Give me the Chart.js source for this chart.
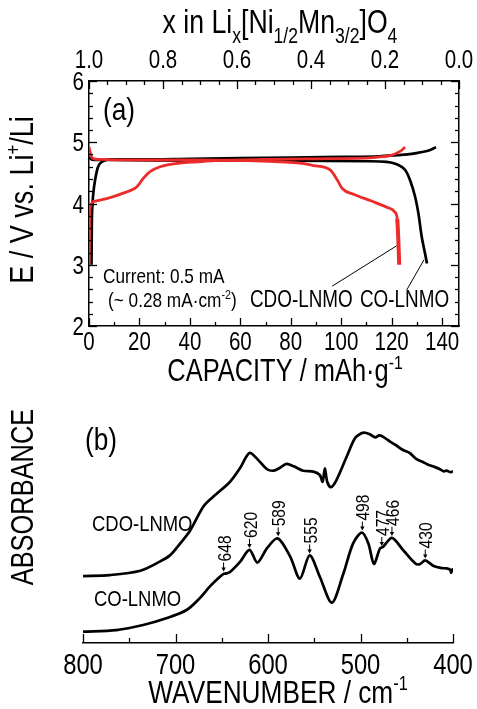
<!DOCTYPE html>
<html><head><meta charset="utf-8">
<script src="https://cdn.jsdelivr.net/npm/chart.js@4.4.1/dist/chart.umd.min.js"></script>
<style>
html,body{margin:0;padding:0;background:#fff;width:477px;height:709px;overflow:hidden}
#wa{position:absolute;left:0;top:0;width:477px;height:395px}
#wb{position:absolute;left:0;top:395px;width:477px;height:314px}
</style></head><body>
<div id="wa"><canvas id="ca"></canvas></div>
<div id="wb"><canvas id="cb"></canvas></div>
<script>
const FONT = "'Liberation Sans',Arial,Helvetica,sans-serif";
const SX = 0.82; // narrow (condensed) look of the original lettering
const RED = '#EC2B2B';

// ---------- Panel (a) data ----------
const capTicks = [0, 20, 40, 60, 80, 100, 120, 140];
const voltTicks = [2, 3, 4, 5, 6];
const xLiTicks = [1.0, 0.8, 0.6, 0.4, 0.2, 0.0];
const capMax = 146.7;

const coChargeCap = [1.0, 1.1, 1.4, 1.8, 2.4, 3.6, 5.6, 8, 20, 40, 60, 80, 100, 115, 122, 128, 132, 135, 137.6];
const coChargeV   = [3.0, 3.6, 4.0, 4.2, 4.38, 4.6, 4.69, 4.72, 4.72, 4.73, 4.74, 4.75, 4.76, 4.77, 4.79, 4.81, 4.84, 4.87, 4.92];
const coDisCap = [0, 1, 3, 10, 40, 80, 110, 118, 122, 125.3, 127.3, 129.3, 130.6, 131.9, 133.2, 134];
const coDisV   = [4.76, 4.72, 4.71, 4.71, 4.70, 4.70, 4.69, 4.68, 4.64, 4.55, 4.38, 4.11, 3.84, 3.46, 3.19, 3.02];

const cdoChargeCap = [0, 0.2, 0.4, 1.7, 7, 13.6, 18.9, 21.5, 24.2, 28.2, 36, 42.7, 50, 70, 90, 108.7, 115, 119.3, 123.3, 125.3];
const cdoChargeV   = [3.0, 3.5, 3.9, 4.03, 4.08, 4.17, 4.27, 4.41, 4.52, 4.60, 4.66, 4.68, 4.70, 4.72, 4.73, 4.74, 4.76, 4.78, 4.85, 4.92];
const cdoDisCap = [0, 0.4, 1, 2, 4.4, 20, 40, 62.5, 75.7, 83.7, 88.9, 95.6, 98.5, 100.5, 104.8, 112, 118, 121.3, 122.2, 122.6, 123];
const cdoDisV   = [4.92, 4.85, 4.76, 4.73, 4.72, 4.71, 4.71, 4.70, 4.68, 4.66, 4.62, 4.55, 4.38, 4.24, 4.15, 4.04, 3.94, 3.86, 3.75, 3.45, 3.0];

const leadCdoCap = [96.4, 122];
const leadCdoV   = [2.65, 3.31];
const leadCoCap  = [126, 132.8];
const leadCoV    = [2.59, 3.08];

// ---------- Panel (b) data ----------
const wnTicks = [800, 700, 600, 500, 400];
const wnCDO  = [800, 771, 738, 717, 706, 698, 684, 670, 659, 641, 630, 620, 610.5, 601, 594, 587, 580, 572, 562, 551, 544, 541, 538.5, 536, 532, 526, 515, 506, 499, 495, 490, 484, 480, 477, 472, 468, 462, 454, 447, 439, 433, 428, 421, 415, 410, 407, 403, 400];
const absCDO = [27.9, 28.3, 30.1, 33.9, 36.5, 40, 47, 56.8, 61, 67.2, 73, 79.2, 76.2, 72.4, 71.8, 73, 74.6, 73.6, 71.8, 71.4, 70, 67.2, 72.8, 67.2, 64.9, 67.9, 77.6, 85.3, 87.4, 87.6, 87, 85.7, 86.5, 86.25, 85, 83.9, 82.5, 80.4, 79.2, 76.5, 75.5, 74.5, 73.5, 72.6, 71.5, 71.8, 71.2, 71.5];
const wnCO  = [800, 764, 735, 710, 688, 674, 663, 652, 648, 645, 641, 630, 620, 611.5, 601, 589.5, 576, 565.5, 555, 544, 531, 519, 508, 498.5, 491.5, 485.5, 479, 475.5, 466, 454, 441, 436, 430, 421, 412, 407, 403, 402, 400];
const absCO = [4.7, 5.4, 7.5, 10.3, 13.75, 18.6, 23.5, 27.6, 28.8, 29.0, 29.6, 33.9, 38.8, 33.5, 39.5, 43.6, 36, 26.8, 36.5, 27.6, 16.8, 28.3, 41.5, 46, 41.5, 33, 39.3, 40.1, 43.8, 38.75, 33.2, 32.8, 34.4, 32.1, 31.2, 31.1, 30.5, 29.3, 31.1];
const peakWn   = [648, 620, 589, 555, 498, 477, 466, 430];
const peakAbs  = [29.0, 38.8, 43.6, 36.5, 46, 39.6, 43.8, 34.4];
const peakText = ['648', '620', '589', '555', '498', '477', '466', '430'];

function pts(xs, ys) { return xs.map((x, i) => ({ x: x, y: ys[i] })); }

// parts: [text, mode] mode 0 normal, 1 subscript, 2 superscript
function txt(ctx, parts, x, y, size, align, rot, o) {
  o = Object.assign({ ratio: 0.62, sub: 0.24, sup: 0.4 }, o || {});
  const small = size * o.ratio;
  ctx.save();
  ctx.translate(x, y);
  if (rot) ctx.rotate(rot);
  ctx.scale(SX, 1);
  ctx.textAlign = 'left'; ctx.textBaseline = 'alphabetic';
  let w = 0;
  parts.forEach(p => { ctx.font = (p[1] ? small : size) + 'px ' + FONT; w += ctx.measureText(p[0]).width; });
  let cx = align === 'center' ? -w / 2 : (align === 'right' ? -w : 0);
  parts.forEach(p => {
    ctx.font = (p[1] ? small : size) + 'px ' + FONT;
    const dy = p[1] === 1 ? size * o.sub : (p[1] === 2 ? -size * o.sup : 0);
    ctx.fillText(p[0], cx, dy);
    cx += ctx.measureText(p[0]).width;
  });
  ctx.restore();
}

const insideTicks = {
  id: 'insideTicks',
  afterDraw(chart, args, opts) {
    const ctx = chart.ctx, a = chart.chartArea;
    ctx.save(); ctx.strokeStyle = '#000'; ctx.lineWidth = 1.3;
    (opts.specs || []).forEach(s => {
      const sc = chart.scales[s.scale];
      const n = Math.round((s.to - s.from) / s.minor);
      for (let i = 0; i <= n; i++) {
        const v = s.from + i * s.minor;
        const r = v / s.major;
        const isMajor = Math.abs(r - Math.round(r)) < 1e-6;
        const len = isMajor ? s.majorLen : s.minorLen;
        const p = Math.round(sc.getPixelForValue(v)) + 0.5;
        ctx.beginPath();
        if (s.side === 'bottom') { ctx.moveTo(p, a.bottom); ctx.lineTo(p, a.bottom - len); }
        if (s.side === 'top') { ctx.moveTo(p, a.top); ctx.lineTo(p, a.top + len); }
        if (s.side === 'left') { ctx.moveTo(a.left, p); ctx.lineTo(a.left + len, p); }
        if (s.side === 'right') { ctx.moveTo(a.right, p); ctx.lineTo(a.right - len, p); }
        ctx.stroke();
      }
    });
    ctx.restore();
  }
};

const textA = {
  id: 'textA',
  afterDraw(chart) {
    const ctx = chart.ctx; ctx.save(); ctx.fillStyle = '#000';
    const sx = chart.scales.x, sx2 = chart.scales.x2, sy = chart.scales.y;
    capTicks.forEach(v => txt(ctx, [[String(v), 0]], sx.getPixelForValue(v), 350, 25, 'center'));
    xLiTicks.forEach(v => txt(ctx, [[v.toFixed(1), 0]], sx2.getPixelForValue(v), 68, 25, 'center'));
    voltTicks.forEach(v => txt(ctx, [[String(v), 0]], 84, sy.getPixelForValue(v) + 9, 25, 'right'));
    txt(ctx, [['x in Li', 0], ['x', 1], ['[Ni', 0], ['1/2', 1], ['Mn', 0], ['3/2', 1], [']O', 0], ['4', 1]], 280, 33, 32.5, 'center', 0, { ratio: 0.66, sub: 0.3 });
    txt(ctx, [['CAPACITY / mAh\u00B7g', 0], ['-1', 2]], 285, 381, 31, 'center');
    txt(ctx, [['E / V vs. Li', 0], ['+', 2], ['/Li', 0]], 33, 200, 33, 'center', -Math.PI / 2);
    txt(ctx, [['(a)', 0]], 103, 120, 32, 'left');
    txt(ctx, [['Current: 0.5 mA', 0]], 103, 283, 21, 'left');
    txt(ctx, [['(~ 0.28 mA\u00B7cm', 0], ['-2', 2], [')', 0]], 108, 307, 21, 'left');
    txt(ctx, [['CDO-LNMO', 0]], 250, 307, 23, 'left');
    txt(ctx, [['CO-LNMO', 0]], 360, 307, 23, 'left');
    ctx.restore();
  }
};

const textB = {
  id: 'textB',
  afterDraw(chart) {
    const ctx = chart.ctx; ctx.save(); ctx.fillStyle = '#000'; ctx.strokeStyle = '#000';
    const xs = chart.scales.x, ys = chart.scales.y;
    wnTicks.forEach(v => txt(ctx, [[String(v), 0]], xs.getPixelForValue(v), 279, 29, 'center'));
    txt(ctx, [['(b)', 0]], 85, 55, 32, 'left');
    txt(ctx, [['ABSORBANCE', 0]], 33, 102, 31, 'center', -Math.PI / 2);
    txt(ctx, [['CDO-LNMO', 0]], 92, 136, 22.5, 'left');
    txt(ctx, [['CO-LNMO', 0]], 94, 211, 22.5, 'left');
    txt(ctx, [['WAVENUMBER / cm', 0], ['-1', 2]], 278, 308, 32, 'center');
    peakWn.forEach((wn, i) => {
      const px = xs.getPixelForValue(wn);
      const tip = ys.getPixelForValue(peakAbs[i]) - 2;
      const tail = tip - 9;
      ctx.lineWidth = 1;
      ctx.beginPath(); ctx.moveTo(px, tail); ctx.lineTo(px, tip - 3); ctx.stroke();
      ctx.beginPath(); ctx.moveTo(px - 2.2, tip - 4); ctx.lineTo(px + 2.2, tip - 4); ctx.lineTo(px, tip); ctx.closePath(); ctx.fill();
      txt(ctx, [[peakText[i], 0]], px + 7, tail - 1, 19, 'left', -Math.PI / 2);
    });
    ctx.restore();
  }
};

const axisBase = {
  grid: { drawOnChartArea: false, drawTicks: false },
  border: { display: true, color: '#000', width: 1.5 },
  ticks: { display: false }
};

new Chart(document.getElementById('ca'), {
  type: 'scatter',
  data: {
    datasets: [
      { data: pts(cdoChargeCap, cdoChargeV), borderColor: RED, borderWidth: 2.8, showLine: true, pointRadius: 0, cubicInterpolationMode: 'monotone' },
      { data: pts(cdoDisCap, cdoDisV), borderColor: RED, borderWidth: 2.8, showLine: true, pointRadius: 0, cubicInterpolationMode: 'monotone',
        segment: { borderWidth: c => (c.p0DataIndex >= cdoDisCap.length - 3 ? 4 : 2.8) } },
      { data: pts(coChargeCap, coChargeV), borderColor: '#000', borderWidth: 2.7, showLine: true, pointRadius: 0, cubicInterpolationMode: 'monotone' },
      { data: pts(coDisCap, coDisV), borderColor: '#000', borderWidth: 2.7, showLine: true, pointRadius: 0, cubicInterpolationMode: 'monotone' },
      { data: pts(leadCdoCap, leadCdoV), borderColor: '#000', borderWidth: 1, showLine: true, pointRadius: 0 },
      { data: pts(leadCoCap, leadCoV), borderColor: '#000', borderWidth: 1, showLine: true, pointRadius: 0 }
    ]
  },
  options: {
    responsive: true, maintainAspectRatio: false, animation: false, devicePixelRatio: 1,
    layout: { padding: 0 },
    plugins: { legend: { display: false }, tooltip: { enabled: false },
      insideTicks: { specs: [
        { scale: 'x', side: 'bottom', from: 0, to: 140, minor: 10, major: 20, majorLen: 8, minorLen: 4 },
        { scale: 'x2', side: 'top', from: 0, to: 1, minor: 0.05, major: 0.2, majorLen: 8, minorLen: 4 },
        { scale: 'y', side: 'left', from: 2, to: 6, minor: 0.2, major: 1, majorLen: 8, minorLen: 4 },
        { scale: 'y2', side: 'right', from: 2, to: 6, minor: 0.2, major: 1, majorLen: 8, minorLen: 4 }
      ] } },
    scales: {
      x: Object.assign({}, axisBase, { type: 'linear', position: 'bottom', min: 0, max: capMax,
        afterBuildTicks: s => { s.ticks = capTicks.map(v => ({ value: v })); },
        afterFit: s => { s.height = 69; } }),
      x2: Object.assign({}, axisBase, { type: 'linear', position: 'top', min: 0, max: 1, reverse: true,
        afterBuildTicks: s => { s.ticks = xLiTicks.map(v => ({ value: v })); },
        afterFit: s => { s.height = 81; } }),
      y: Object.assign({}, axisBase, { type: 'linear', position: 'left', min: 2, max: 6,
        afterBuildTicks: s => { s.ticks = voltTicks.map(v => ({ value: v })); },
        afterFit: s => { s.width = 89; } }),
      y2: Object.assign({}, axisBase, { type: 'linear', position: 'right', min: 2, max: 6,
        afterFit: s => { s.width = 18; } })
    }
  },
  plugins: [insideTicks, textA]
});

new Chart(document.getElementById('cb'), {
  type: 'scatter',
  data: {
    datasets: [
      { data: pts(wnCDO, absCDO), borderColor: '#000', borderWidth: 2.7, showLine: true, pointRadius: 0, tension: 0.3 },
      { data: pts(wnCO, absCO), borderColor: '#000', borderWidth: 2.7, showLine: true, pointRadius: 0, tension: 0.3 }
    ]
  },
  options: {
    responsive: true, maintainAspectRatio: false, animation: false, devicePixelRatio: 1,
    layout: { padding: { left: 83, right: 24, top: 8, bottom: 0 } },
    plugins: { legend: { display: false }, tooltip: { enabled: false },
      insideTicks: { specs: [
        { scale: 'x', side: 'bottom', from: 400, to: 800, minor: 50, major: 100, majorLen: 9, minorLen: 5 }
      ] } },
    scales: {
      x: Object.assign({}, axisBase, { type: 'linear', position: 'bottom', min: 400, max: 800, reverse: true,
        afterBuildTicks: s => { s.ticks = wnTicks.map(v => ({ value: v })); },
        afterFit: s => { s.height = 66; } }),
      y: { type: 'linear', display: false, min: 0, max: 100 }
    }
  },
  plugins: [insideTicks, textB]
});
</script></body></html>
